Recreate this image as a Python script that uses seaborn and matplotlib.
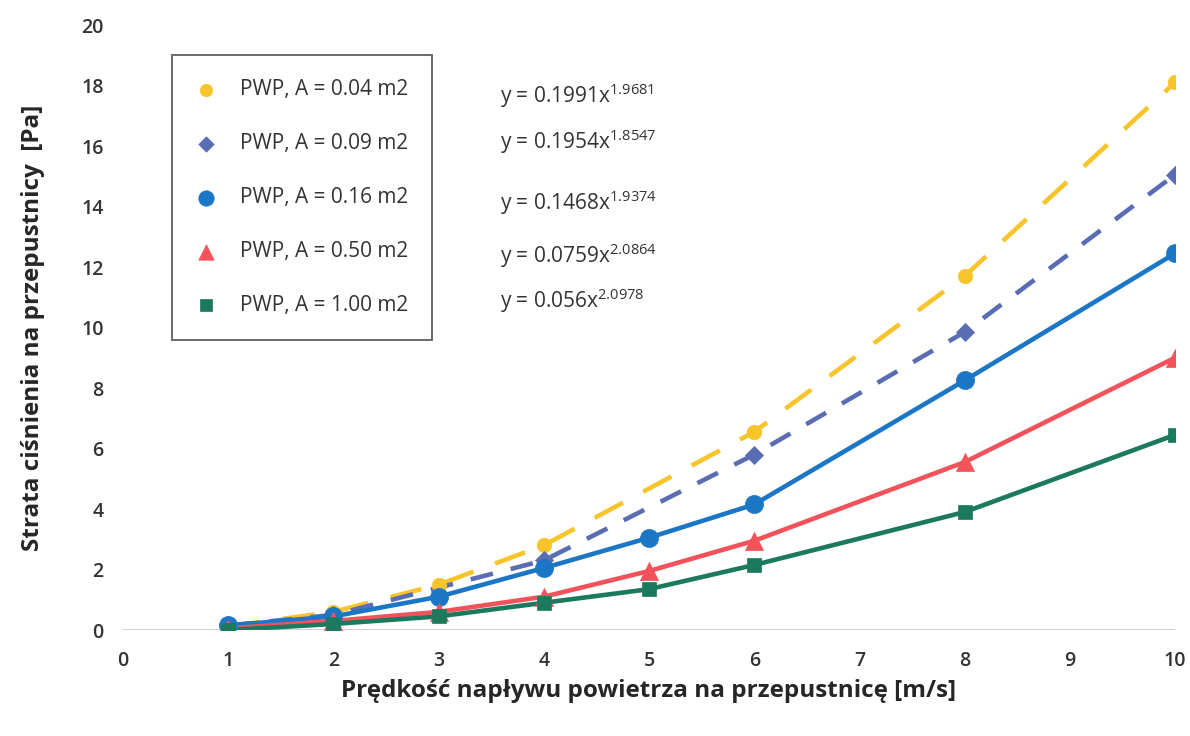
import pandas as pd
import matplotlib
matplotlib.use("Agg")
import matplotlib.pyplot as plt
import seaborn as sns

# data
x_small = [1, 2, 3, 4, 6, 8, 10]
x_full = [1, 2, 3, 4, 5, 6, 8, 10]

y_004 = [0.12, 0.6, 1.5, 2.8, 6.55, 11.7, 18.1]
y_009 = [0.15, 0.5, 1.2, 2.3, 5.8, 9.85, 15.05]
y_016 = [0.15, 0.45, 1.1, 2.05, 3.05, 4.15, 8.25, 12.45]
y_050 = [0.05, 0.3, 0.6, 1.1, 1.95, 2.95, 5.55, 9.0]
y_100 = [0.0, 0.2, 0.45, 0.9, 1.35, 2.15, 3.9, 6.45]

labels = ["PWP, A = 0.04 m2", "PWP, A = 0.09 m2", "PWP, A = 0.16 m2",
          "PWP, A = 0.50 m2", "PWP, A = 1.00 m2"]
equations = [("0.1991", "1.9681"), ("0.1954", "1.8547"), ("0.1468", "1.9374"),
             ("0.0759", "2.0864"), ("0.056", "2.0978")]

colors = ["#F7C52B", "#5A6DB2", "#1C76C6", "#F2535B", "#1B7A5E"]
markers = ["o", "D", "o", "^", "s"]
msizes = [110, 85, 170, 170, 105]
dashes = [(7, 5), (5, 4), None, None, None]

series = [(x_small, y_004), (x_small[:2] + x_small[3:], y_009[:2] + y_009[3:]),
          (x_full, y_016), (x_full, y_050), (x_full, y_100)]

sns.set_theme(style="white")
plt.rcParams['font.family'] = ['Open Sans', 'DejaVu Sans']
plt.rcParams['mathtext.fontset'] = 'custom'
plt.rcParams['mathtext.rm'] = 'Open Sans'

fig = plt.figure(figsize=(11.9, 7.36), dpi=100)
ax = fig.add_axes([0.1034, 0.144, 0.884, 0.822])

for i, (xs, ys) in enumerate(series):
    df = pd.DataFrame({"x": xs, "y": ys})
    sns.lineplot(data=df, x="x", y="y", ax=ax, color=colors[i], lw=3.3, zorder=2)
    if dashes[i] is not None:
        ax.lines[-1].set_dashes(dashes[i])
    sns.scatterplot(data=df, x="x", y="y", ax=ax, color=colors[i], marker=markers[i],
                    s=msizes[i], edgecolor=colors[i], linewidth=0.5, zorder=3,
                    label=labels[i])

ax.set_xlim(0, 10)
ax.set_ylim(0, 20)
ax.set_xticks(range(0, 11))
ax.set_yticks(range(0, 21, 2))
for s in ax.spines.values():
    s.set_visible(False)
ax.axhline(0, color="#c8c8c8", lw=1.2, zorder=1)
ax.tick_params(axis="both", length=0, labelsize=14, labelcolor="#333333")
for t in ax.get_xticklabels() + ax.get_yticklabels():
    t.set_fontweight("semibold")
ax.tick_params(axis="x", pad=15)
ax.tick_params(axis="y", pad=14)

ax.set_xlabel("Prędkość napływu powietrza na przepustnicę [m/s]", fontsize=17.5,
              fontweight="bold", color="#262626", labelpad=6)
ax.set_ylabel("Strata ciśnienia na przepustnicy  [Pa]", fontsize=17.5,
              fontweight="bold", color="#262626", labelpad=26)

leg = ax.legend(loc="upper left", bbox_to_anchor=(0.0466, 0.95), frameon=True,
                fancybox=False, fontsize=15, labelspacing=1.58, borderpad=1.15,
                handlelength=1.0, handletextpad=1.1, borderaxespad=0,
                markerscale=0.85)
leg.get_frame().set_edgecolor("#444444")
leg.get_frame().set_linewidth(1.4)
for t in leg.get_texts():
    t.set_color("#333333")

eq_y = [0.870, 0.808, 0.724, 0.652, 0.592]
for (a, b), yy in zip(equations, eq_y):
    fig.text(0.42, yy, "y = " + a + "x$^{\\mathregular{" + b + "}}$",
             fontsize=15, color="#333333", va="center")

fig.savefig("out.png", dpi=100)
